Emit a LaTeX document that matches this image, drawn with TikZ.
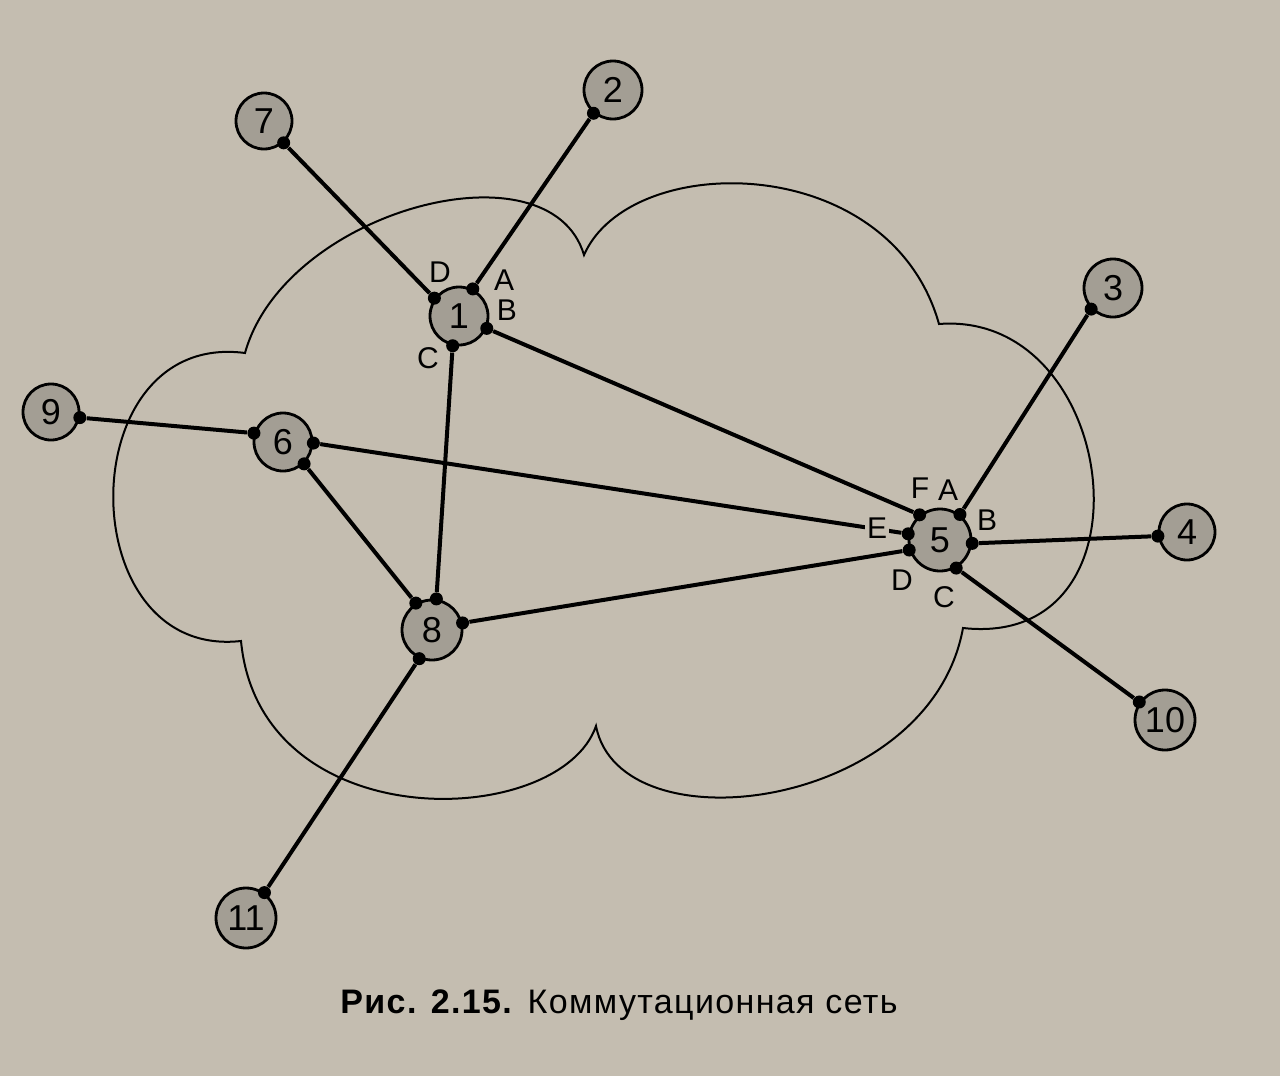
\documentclass[tikz,border=0pt]{standalone}
\usepackage{fontspec}
\setmainfont{Liberation Sans}

\definecolor{paper}{RGB}{196,189,176}
\definecolor{station}{RGB}{163,158,148}

\tikzset{
  sw/.style={circle, draw, line width=1.4pt, fill=station, inner sep=0pt,
    minimum size=29pt, font=\fontsize{18}{18}\selectfont},
  port/.style={circle, fill=black, minimum size=6.5pt, inner sep=0pt},
  plabel/.style={fill=paper, inner sep=1.2pt, font=\fontsize{15}{15}\selectfont},
  link/.style={line width=2pt},
}

\begin{document}
\begin{tikzpicture}[x=0.5pt, y=-0.5pt]
\fill[paper] (0,0) rectangle (1280,1076);
\useasboundingbox (0,0) rectangle (1280,1076);

% cloud
\draw[line width=1pt] (245,353) .. controls (285,210) and (550,140) .. (584,255)
  .. controls (630,150) and (890,150) .. (939,324)
  .. controls (1120,310) and (1160,650) .. (963,628)
  .. controls (930,810) and (620,850) .. (596,726)
  .. controls (560,830) and (260,840) .. (241,641)
  .. controls (70,660) and (70,330) .. cycle;

% switches
\node[sw] (n1) at (459,316) {1};
\node[sw] (n2) at (613,90) {2};
\node[sw] (n3) at (1113,288) {3};
\node[sw, minimum size=28pt] (n4) at (1187,532) {4};
\node[sw, minimum size=31pt] (n5) at (940,540) {5};
\node[sw] (n6) at (283,442) {6};
\node[sw, minimum size=28pt] (n7) at (264,121) {7};
\node[sw, minimum size=30pt] (n8) at (432,630) {8};
\node[sw, minimum size=28pt] (n9) at (51,412) {9};
\node[sw, minimum size=30pt] (n10) at (1165,720) {10};
\node[sw, minimum size=30pt] (n11) at (246,918) {11};

% ports
\node[port] (p1A) at (n1.63) {};
\node[port] (p1B) at (n1.-24) {};
\node[port] (p1C) at (n1.-102) {};
\node[port] (p1D) at (n1.144) {};
\node[port] (p2) at (n2.-130) {};
\node[port] (p3) at (n3.-136) {};
\node[port] (p4) at (n4.188) {};
\node[port] (p5A) at (n5.52) {};
\node[port] (p5B) at (n5.-6) {};
\node[port] (p5C) at (n5.-60) {};
\node[port] (p5D) at (n5.198) {};
\node[port] (p5E) at (n5.169) {};
\node[port] (p5F) at (n5.129) {};
\node[port] (p6L) at (n6.163) {};
\node[port] (p6R) at (n6.-2) {};
\node[port] (p6B) at (n6.-46) {};
\node[port] (p7) at (n7.-48) {};
\node[port] (p8L) at (n8.121) {};
\node[port] (p8T) at (n8.82) {};
\node[port] (p8R) at (n8.13) {};
\node[port] (p8B) at (n8.-114) {};
\node[port] (p9) at (n9.-11) {};
\node[port] (p10) at (n10.145) {};
\node[port] (p11) at (n11.54) {};

% links
\draw[link] (p7) -- (p1D);
\draw[link] (p2) -- (p1A);
\draw[link] (p1B) -- (p5F);
\draw[link] (p1C) -- (p8T);
\draw[link] (p9) -- (p6L);
\draw[link] (p6R) -- (p5E);
\draw[link] (p6B) -- (p8L);
\draw[link] (p8R) -- (p5D);
\draw[link] (p8B) -- (p11);
\draw[link] (p3) -- (p5A);
\draw[link] (p5B) -- (p4);
\draw[link] (p5C) -- (p10);

% port labels
\node[plabel] (l1D) at (440,272) {D};
\node[plabel] (l1A) at (504,280) {A};
\node[plabel] (l1B) at (507,310) {B};
\node[plabel] (l1C) at (428,358) {C};
\node[plabel] (l5F) at (920,488) {F};
\node[plabel] (l5A) at (948,490) {A};
\node[plabel] (l5E) at (877,528) {E};
\node[plabel] (l5B) at (987,520) {B};
\node[plabel] (l5D) at (902,580) {D};
\node[plabel] (l5C) at (944,597) {C};

% caption
\node[font=\fontsize{17}{17}\selectfont\addfontfeature{LetterSpace=4}] (cap) at (619,1005)
  {\textbf{Рис. 2.15.} Коммутационная сеть};
\end{tikzpicture}
\end{document}
